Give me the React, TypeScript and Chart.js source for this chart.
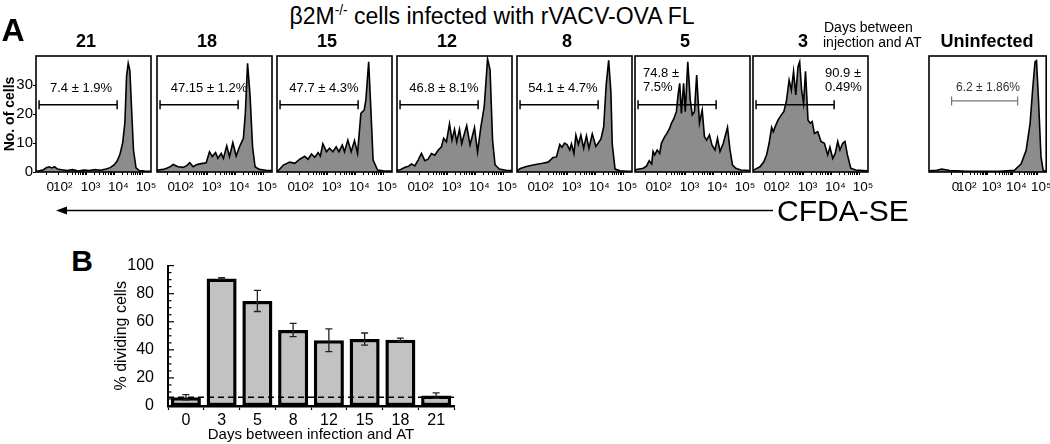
import React, { useEffect, useRef } from 'react';
import { Chart, registerables } from 'chart.js';

Chart.register(...registerables);

const FONT = '"Liberation Sans", Arial, Helvetica, sans-serif';
Chart.defaults.font.family = FONT;
Chart.defaults.color = '#000';

// ---------------- Panel A: CFSE histograms (x = log10 CFDA-SE, y = No. of cells) ----------------
const day21X = [1.18, 1.3, 1.45, 1.55, 1.65, 1.75, 1.85, 1.95, 2.1, 2.3, 2.5, 2.7, 2.9, 3.1, 3.3, 3.5, 3.7, 3.85, 4.0, 4.1, 4.2, 4.3, 4.38, 4.44, 4.5, 4.56, 4.62, 4.69, 4.78, 4.9, 5.1, 5.32];
const day21Y = [0.3, 0.4, 0.8, 1.5, 1.8, 1.4, 1.8, 1.0, 0.8, 0.5, 0.8, 0.3, 0.7, 0.5, 0.8, 0.6, 1.0, 1.5, 2.5, 3.8, 6, 10, 17, 33, 37.5, 35, 22, 7.5, 1.4, 0.5, 0.3, 0.2];

const day18X = [1.18, 1.23, 1.4, 1.53, 1.65, 1.76, 1.94, 2.12, 2.25, 2.36, 2.48, 2.6, 2.72, 2.95, 3.07, 3.17, 3.29, 3.37, 3.49, 3.57, 3.69, 3.79, 3.91, 4.03, 4.15, 4.29, 4.36, 4.44, 4.53, 4.62, 4.71, 4.86, 5.1, 5.32];
const day18Y = [0.5, 0.7, 0.9, 1.3, 1.8, 2.6, 1.8, 1.6, 2.2, 3.2, 1.8, 2.5, 2.8, 3.2, 7.0, 5.3, 6.7, 4.7, 6.4, 4.7, 9.0, 5.3, 10.1, 5.5, 8.7, 11.6, 20.2, 37.5, 26.4, 8.7, 1.8, 0.9, 0.6, 0.5];

const day15X = [1.18, 1.23, 1.41, 1.64, 1.82, 2.0, 2.18, 2.3, 2.42, 2.54, 2.66, 2.74, 2.83, 2.96, 3.07, 3.19, 3.31, 3.41, 3.53, 3.61, 3.73, 3.85, 3.97, 4.08, 4.2, 4.32, 4.38, 4.48, 4.56, 4.64, 4.8, 5.0, 5.32];
const day15Y = [0.3, 0.5, 2.4, 3.4, 3.0, 4.4, 5.4, 4.4, 6.2, 5.1, 6.7, 5.5, 9.7, 7.0, 8.2, 7.0, 8.7, 7.0, 9.3, 7.0, 11.0, 7.0, 10.8, 6.4, 20.2, 21.4, 24.9, 38, 21.4, 4.1, 0.7, 0.4, 0.3];

const day12X = [1.18, 1.3, 1.47, 1.6, 1.7, 1.82, 1.94, 2.06, 2.18, 2.3, 2.42, 2.54, 2.66, 2.78, 2.86, 2.96, 3.07, 3.16, 3.25, 3.33, 3.43, 3.51, 3.6, 3.69, 3.81, 3.97, 4.08, 4.2, 4.32, 4.44, 4.53, 4.62, 4.71, 4.86, 5.1, 5.32];
const day12Y = [0.6, 0.8, 1.6, 2.0, 2.8, 2.1, 4.1, 6.4, 3.9, 4.4, 6.4, 5.8, 7.5, 8.7, 11.6, 10.4, 16.6, 11.0, 14.7, 10.4, 14.7, 9.8, 13.0, 16.0, 9.3, 15.3, 6.9, 15.6, 22.5, 39, 35.2, 11.0, 2.5, 1.0, 0.6, 0.5];

const day8X = [1.18, 1.3, 1.55, 1.85, 2.1, 2.3, 2.48, 2.6, 2.72, 2.8, 2.89, 2.98, 3.08, 3.14, 3.23, 3.3, 3.39, 3.48, 3.58, 3.68, 3.77, 3.89, 4.02, 4.2, 4.3, 4.39, 4.48, 4.56, 4.61, 4.71, 4.89, 5.14, 5.32];
const day8Y = [0.4, 1.2, 2.0, 2.6, 3.0, 3.4, 5.0, 5.2, 9.5, 8.5, 10.0, 9.5, 7.6, 9.7, 6.4, 12.7, 9.5, 12.7, 8.2, 12.5, 8.2, 13.1, 8.8, 11.3, 15.5, 30, 38.5, 27.6, 9.5, 1.0, 0.4, 0.2, 0.2];

const day5X = [1.18, 1.24, 1.48, 1.6, 1.69, 1.78, 1.83, 1.89, 1.98, 2.07, 2.13, 2.25, 2.33, 2.43, 2.49, 2.57, 2.67, 2.73, 2.79, 2.85, 2.93, 2.99, 3.08, 3.17, 3.24, 3.32, 3.4, 3.5, 3.6, 3.68, 3.76, 3.86, 3.95, 4.06, 4.15, 4.24, 4.36, 4.51, 4.6, 4.69, 4.81, 4.99, 5.3];
const day5Y = [0.5, 0.9, 1.3, 2.1, 3.9, 2.8, 7.1, 5.9, 7.6, 6.4, 9.9, 12.2, 13.3, 15.1, 16.8, 18.2, 20.8, 26.6, 30.6, 20.2, 30.6, 20.8, 38, 24.8, 19.7, 20.8, 33.4, 16.8, 21.4, 12.2, 11.0, 12.8, 9.3, 7.6, 11.6, 7.1, 9.9, 15.4, 7.6, 2.4, 1.3, 0.7, 0.5];

const day3X = [1.18, 1.25, 1.43, 1.57, 1.67, 1.76, 1.85, 1.91, 1.99, 2.08, 2.2, 2.29, 2.38, 2.48, 2.56, 2.64, 2.72, 2.8, 2.86, 2.93, 3.0, 3.07, 3.16, 3.24, 3.31, 3.39, 3.51, 3.63, 3.75, 3.87, 3.95, 4.05, 4.14, 4.23, 4.31, 4.41, 4.49, 4.58, 4.7, 4.88, 5.29];
const day3Y = [0.5, 0.9, 1.8, 3.5, 5.9, 9.9, 15.4, 13.9, 15.9, 17.9, 19.7, 20.8, 24.3, 31.7, 28.2, 34.7, 26.6, 36.3, 38, 28.2, 23.7, 34.7, 17.9, 16.8, 17.4, 13.3, 13.9, 10.5, 9.9, 5.9, 8.6, 4.7, 6.4, 10.5, 7.6, 9.9, 10.5, 5.9, 1.3, 0.7, 0.4];

const uninfX = [0.64, 0.68, 0.95, 1.15, 1.48, 2.15, 3.48, 4.08, 4.35, 4.55, 4.71, 4.81, 4.91, 4.97, 5.05, 5.15, 5.24, 5.36];
const uninfY = [0.3, 0.4, 0.6, 1.0, 0.5, 0.2, 0.2, 0.6, 2.8, 7.4, 16.6, 28, 38, 38.4, 24.8, 5.3, 0.5, 0.2];

const panelDays = ['21', '18', '15', '12', '8', '5', '3'];
const panelXs = [day21X, day18X, day15X, day12X, day8X, day5X, day3X];
const panelYs = [day21Y, day18Y, day15Y, day12Y, day8Y, day5Y, day3Y];
const gateTexts = [['7.4 ± 1.9%'], ['47.15 ± 1.2%'], ['47.7 ± 4.3%'], ['46.8 ± 8.1%'], ['54.1 ± 4.7%'], ['74.8 ±', '7.5%'], ['90.9 ±', '0.49%']];
const gateRange = [1.29, 4.1];
const gateLevel = 23.2;
const uninfGateText = '6.2 ± 1.86%';
const uninfGateRange = [1.55, 4.21];
const uninfGateLevel = 24.5;
const cfdaTickValues = [1.55, 2, 3, 4, 5];
const cfdaTickLabels = ['0', '10²', '10³', '10⁴', '10⁵'];
const cellTickValues = [0, 10, 20, 30];
const cellMax = 40;

// ---------------- Panel B: % dividing cells ----------------
const dayLabels = ['0', '3', '5', '8', '12', '15', '18', '21'];
const pctDividing = [6.2, 90.9, 74.8, 54.1, 46.8, 47.7, 47.15, 7.4];
const pctSem = [1.86, 0.49, 7.5, 4.7, 8.1, 4.3, 1.2, 1.9];
const uninfectedLevel = 6.2;

// ---------------- layout ----------------
const BOX_LEFTS = [36, 157, 277, 397, 517, 635, 753];
const BOX_W = 116;
const UNINF_LEFT = 929;
const UNINF_W = 118;
const BOX_TOP = 56;

function minorTicks(): number[] {
  const out: number[] = [];
  for (let n = 2; n <= 4; n++) for (let k = 2; k <= 9; k++) out.push(n + Math.log10(k));
  return out;
}

type HistProps = {
  left: number; width: number; xs: number[]; ys: number[]; xMin: number; xMax: number;
  gate: number[]; level: number; gateColor: string; gateWidth: number; showY: boolean;
};

function Histogram(p: HistProps) {
  const ref = useRef<HTMLCanvasElement>(null);
  useEffect(() => {
    const boxPlugin = {
      id: 'box',
      afterDraw(chart: any) {
        const { ctx, chartArea: a } = chart;
        ctx.save();
        ctx.strokeStyle = '#000';
        ctx.lineWidth = 1.6;
        ctx.strokeRect(a.left, a.top, a.right - a.left, a.bottom - a.top);
        ctx.restore();
      },
    };
    const majors = cfdaTickValues;
    const allTicks = [...majors, ...minorTicks()].sort((a, b) => a - b);
    const chart = new Chart(ref.current as HTMLCanvasElement, {
      type: 'line',
      data: {
        datasets: [
          {
            data: p.xs.map((x, i) => ({ x, y: p.ys[i] })),
            fill: 'origin',
            backgroundColor: '#8c8c8c',
            borderColor: '#000',
            borderWidth: 1.6,
            pointRadius: 0,
            tension: 0,
            order: 2,
          },
          {
            data: [{ x: p.gate[0], y: p.level }, { x: p.gate[1], y: p.level }],
            borderColor: p.gateColor,
            borderWidth: p.gateWidth,
            pointStyle: 'line',
            pointRotation: 90,
            pointRadius: 4.5,
            pointBorderColor: p.gateColor,
            pointBorderWidth: p.gateWidth,
            fill: false,
            order: 1,
          },
        ] as any,
      },
      options: {
        animation: false,
        responsive: false,
        maintainAspectRatio: false,
        layout: { padding: { top: 10, right: 5, left: 0, bottom: 0 } },
        plugins: { legend: { display: false }, tooltip: { enabled: false } },
        scales: {
          x: {
            type: 'linear',
            min: p.xMin,
            max: p.xMax,
            afterFit: (s: any) => { s.height = 26; },
            afterBuildTicks: (s: any) => { s.ticks = allTicks.map((v) => ({ value: v })); },
            ticks: {
              autoSkip: false,
              maxRotation: 0,
              padding: 4,
              labelOffset: 4,
              font: { size: 13.5 },
              color: '#000',
              callback: (v: any) => {
                const i = majors.findIndex((m) => Math.abs(m - Number(v)) < 1e-6);
                return i >= 0 ? cfdaTickLabels[i] : '';
              },
            },
            grid: { drawOnChartArea: false, tickLength: 3, color: '#000', tickWidth: 1 },
            border: { display: false },
          },
          y: {
            type: 'linear',
            min: 0,
            max: cellMax,
            afterFit: (s: any) => { s.width = 40; },
            afterBuildTicks: (s: any) => { s.ticks = cellTickValues.map((v) => ({ value: v })); },
            ticks: { display: p.showY, font: { size: 15 }, color: '#000', padding: 0 },
            grid: { display: p.showY, drawOnChartArea: false, tickLength: 3, color: '#000' },
            border: { display: false },
            title: {
              display: p.showY,
              text: 'No. of cells',
              font: { size: 14, weight: 'bold' },
              color: '#000',
              padding: { top: 6, bottom: 0 },
            },
          },
        },
      } as any,
      plugins: [boxPlugin],
    });
    return () => chart.destroy();
  }, []);
  const w = p.width + 45;
  return (
    <canvas
      ref={ref}
      width={w}
      height={152}
      style={{ position: 'absolute', left: p.left - 40, top: BOX_TOP - 10, width: w, height: 152 }}
    />
  );
}

function BarPanel() {
  const ref = useRef<HTMLCanvasElement>(null);
  useEffect(() => {
    const extras = {
      id: 'extras',
      afterDatasetsDraw(chart: any) {
        const { ctx, chartArea: a, scales } = chart;
        const ys = scales.y;
        const meta = chart.getDatasetMeta(0);
        ctx.save();
        // error bars
        ctx.strokeStyle = '#222';
        ctx.lineWidth = 1.3;
        meta.data.forEach((bar: any, i: number) => {
          const yt = ys.getPixelForValue(pctDividing[i] + pctSem[i]);
          const yb = ys.getPixelForValue(pctDividing[i] - pctSem[i]);
          ctx.beginPath();
          ctx.moveTo(bar.x, yt); ctx.lineTo(bar.x, yb);
          ctx.moveTo(bar.x - 3.5, yt); ctx.lineTo(bar.x + 3.5, yt);
          ctx.moveTo(bar.x - 3.5, yb); ctx.lineTo(bar.x + 3.5, yb);
          ctx.stroke();
        });
        // dashed uninfected level
        const yd = ys.getPixelForValue(uninfectedLevel);
        ctx.strokeStyle = '#000';
        ctx.lineWidth = 1.4;
        ctx.setLineDash([6, 4]);
        ctx.beginPath();
        ctx.moveTo(a.left, yd); ctx.lineTo(a.right, yd);
        ctx.stroke();
        ctx.setLineDash([]);
        // inner y ticks
        ctx.lineWidth = 1.2;
        for (let v = 0; v <= 100; v += 5) {
          const y = ys.getPixelForValue(v);
          const len = v % 20 === 0 ? 6 : 3.5;
          ctx.beginPath();
          ctx.moveTo(a.left, y); ctx.lineTo(a.left + len, y);
          ctx.stroke();
        }
        ctx.restore();
      },
    };
    const chart = new Chart(ref.current as HTMLCanvasElement, {
      type: 'bar',
      data: {
        labels: dayLabels,
        datasets: [
          {
            data: pctDividing,
            backgroundColor: '#c2c2c2',
            borderColor: '#000',
            borderWidth: 3.5,
            borderSkipped: false,
            barPercentage: 0.84,
            categoryPercentage: 1,
          },
        ],
      },
      options: {
        animation: false,
        responsive: false,
        maintainAspectRatio: false,
        layout: { padding: { left: 0, top: 13, right: 16, bottom: 0 } },
        plugins: { legend: { display: false }, tooltip: { enabled: false } },
        scales: {
          x: {
            afterFit: (s: any) => { s.height = 38; },
            ticks: { font: { size: 16 }, color: '#000', padding: 1 },
            grid: { drawOnChartArea: false, offset: true, tickLength: 4, color: '#000', tickWidth: 1.2 },
            border: { display: true, color: '#000', width: 2.5 },
            title: {
              display: true,
              text: 'Days between infection and AT',
              font: { size: 15 },
              color: '#000',
              padding: { top: 0, bottom: 0 },
            },
          },
          y: {
            min: 0,
            max: 100,
            afterFit: (s: any) => { s.width = 68; },
            ticks: { stepSize: 20, font: { size: 16 }, color: '#000', padding: 6 },
            grid: { display: false },
            border: { display: true, color: '#000', width: 2 },
            title: {
              display: true,
              text: '% dividing cells',
              font: { size: 16 },
              color: '#000',
              padding: { top: 12, bottom: 0 },
            },
          },
        },
      } as any,
      plugins: [extras],
    });
    return () => chart.destroy();
  }, []);
  return (
    <canvas
      ref={ref}
      width={370}
      height={194}
      style={{ position: 'absolute', left: 100, top: 250, width: 370, height: 194 }}
    />
  );
}

function Txt(props: { x: number; y: number; size: number; bold?: boolean; anchor?: string; color?: string; children: any }) {
  const tx = props.anchor === 'left' ? '0' : props.anchor === 'right' ? '-100%' : '-50%';
  return (
    <div
      style={{
        position: 'absolute',
        left: props.x,
        top: props.y,
        transform: `translate(${tx},-50%)`,
        fontSize: props.size,
        fontWeight: props.bold ? 700 : 400,
        fontFamily: FONT,
        lineHeight: 1,
        whiteSpace: 'nowrap',
        color: props.color || '#000',
      }}
    >
      {props.children}
    </div>
  );
}

export default function App() {
  return (
    <div
      style={{
        position: 'absolute',
        left: 0,
        top: 0,
        width: 1050,
        height: 444,
        overflow: 'hidden',
        background: '#fff',
        fontFamily: FONT,
      }}
    >
      <svg width={1050} height={444} style={{ position: 'absolute', left: 0, top: 0 }}>
        <line x1={64} y1={210.5} x2={773} y2={210.5} stroke="#000" strokeWidth={1.6} />
        <polygon points="56,210.5 67,206.5 67,214.5" fill="#000" />
      </svg>

      {panelDays.map((d, i) => (
        <Histogram
          key={d}
          left={BOX_LEFTS[i]}
          width={BOX_W}
          xs={panelXs[i]}
          ys={panelYs[i]}
          xMin={1.18}
          xMax={5.32}
          gate={gateRange}
          level={gateLevel}
          gateColor="#000"
          gateWidth={1.5}
          showY={i === 0}
        />
      ))}
      <Histogram
        left={UNINF_LEFT}
        width={UNINF_W}
        xs={uninfX}
        ys={uninfY}
        xMin={0.64}
        xMax={5.36}
        gate={uninfGateRange}
        level={uninfGateLevel}
        gateColor="#777"
        gateWidth={1.2}
        showY={false}
      />
      <BarPanel />

      <Txt x={13} y={30} size={32} bold>A</Txt>
      <Txt x={82} y={261} size={30} bold>B</Txt>
      <Txt x={492} y={16} size={23}>
        β2M<span style={{ fontSize: '0.6em', position: 'relative', top: '-0.65em' }}>-/-</span> cells infected with rVACV-OVA FL
      </Txt>

      {panelDays.map((d, i) => (
        <Txt key={'t' + d} x={BOX_LEFTS[i] + 50} y={41} size={18} bold>{d}</Txt>
      ))}
      <Txt x={824} y={27} size={14} anchor="left">Days between</Txt>
      <Txt x={823} y={42} size={14} anchor="left">injection and AT</Txt>
      <Txt x={987} y={41} size={18} bold>Uninfected</Txt>

      {gateTexts.map((g, i) =>
        g.length === 1 ? (
          <Txt key={'g' + i} x={BOX_LEFTS[i] + [45, 52, 47, 47, 46][i]} y={87} size={13}>{g[0]}</Txt>
        ) : (
          <React.Fragment key={'g' + i}>
            <Txt x={BOX_LEFTS[i] + (i === 5 ? 8 : 72)} y={72} size={13} anchor="left">{g[0]}</Txt>
            <Txt x={BOX_LEFTS[i] + (i === 5 ? 8 : 72)} y={86} size={13} anchor="left">{g[1]}</Txt>
          </React.Fragment>
        )
      )}
      <Txt x={988} y={87} size={12} color="#333">{uninfGateText}</Txt>

      <Txt x={777} y={211} size={30} anchor="left">CFDA-SE</Txt>
    </div>
  );
}
